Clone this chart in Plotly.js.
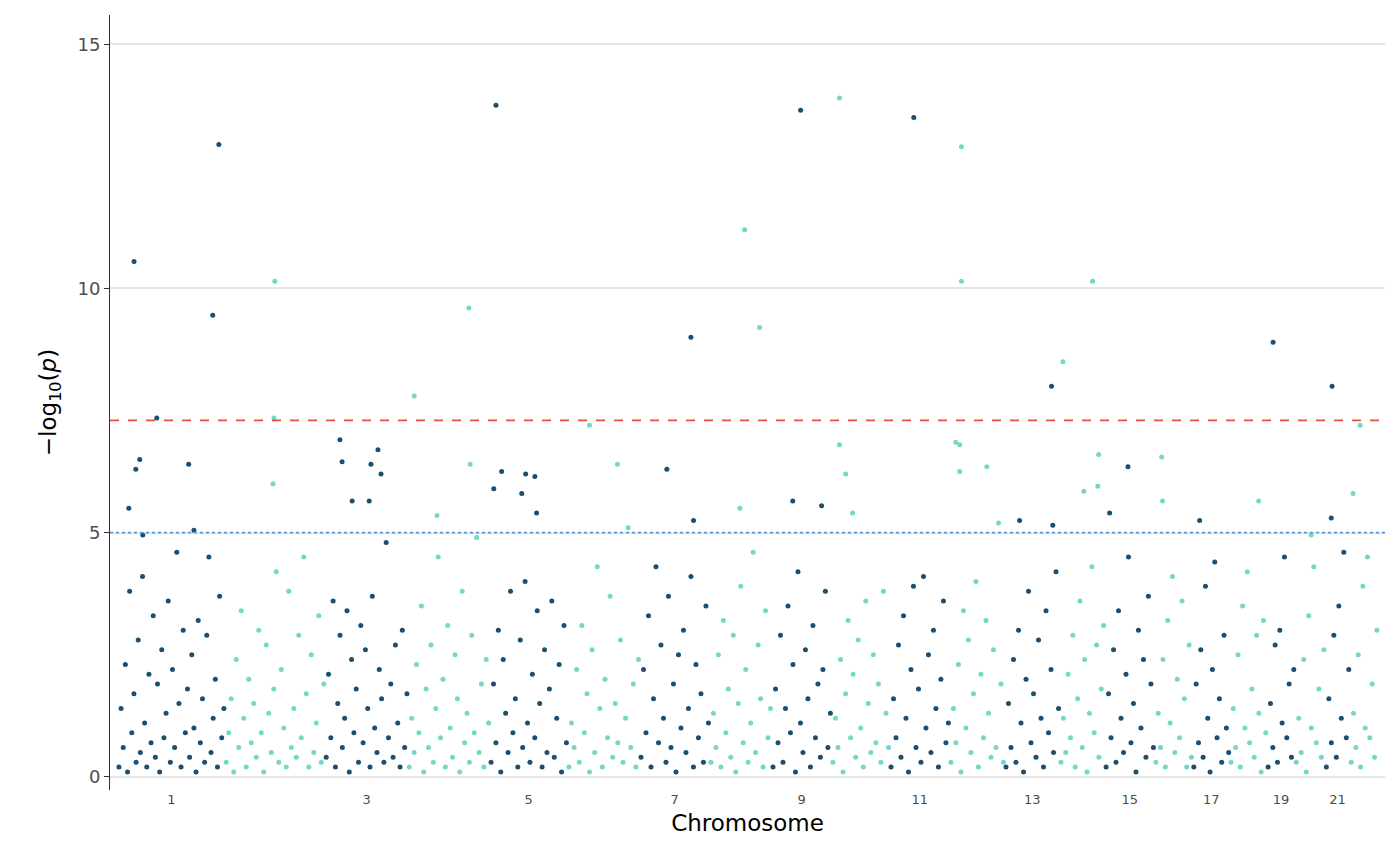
<!DOCTYPE html>
<html>
<head>
<meta charset="utf-8">
<script src="https://cdn.plot.ly/plotly-3.0.1.min.js"></script>
<style>body{margin:0;background:#fff}</style>
</head>
<body>
<div id="gd" style="width:1400px;height:866px"></div>
<script>
// chromosome lengths (Mb)
var chromLengths = [245, 229, 190, 187, 178, 165, 160, 142, 137, 133, 137, 126, 126, 103, 114, 87, 85, 85, 64, 69, 57, 64];
var tickChroms = [1, 3, 5, 7, 9, 11, 13, 15, 17, 19, 21];

// background -log10(p) values per chromosome (spread along each chromosome)
var bulk = [
  [0.2,1.4,0.6,2.3,0.1,3.8,0.9,1.7,0.3,2.8,0.5,4.1,1.1,0.2,2.1,0.7,3.3,0.4,1.9,0.1,2.6,0.8,1.3,3.6,0.3,2.2,0.6,4.6,1.5,0.2,3.0,0.9,1.8,0.4,2.5,1.0,0.1,3.2,0.7,1.6,0.3,2.9,4.5,0.5,1.2,2.0,0.2,3.7,0.8,1.4],
  [0.3,0.9,1.6,0.1,2.4,0.6,3.4,1.2,0.2,2.0,0.7,1.5,0.4,3.0,0.9,0.1,2.7,1.3,0.5,1.8,4.2,0.3,2.2,1.0,0.2,3.8,0.6,1.4,0.4,2.9,0.8,4.5,1.7,0.2,2.5,0.5,1.1,3.3,0.3,1.9],
  [0.4,2.1,0.8,3.6,0.2,1.5,2.9,0.6,1.2,3.4,0.1,2.4,0.9,1.8,0.3,3.1,0.7,2.6,1.4,0.2,3.7,1.0,0.5,2.2,1.6,0.3,4.8,0.8,1.9,0.4,2.7,1.1,0.2,3.0,0.6,1.7],
  [0.2,1.2,0.5,2.3,0.9,3.5,0.1,1.8,0.6,2.7,0.3,1.4,4.5,0.8,2.0,0.2,3.1,1.0,0.4,2.5,1.6,0.1,3.8,0.7,1.3,0.3,2.9,0.9,4.9,0.5,1.9,0.2,2.4,1.1],
  [0.3,1.9,0.7,3.0,0.1,2.4,1.3,0.5,3.8,0.9,1.6,0.2,2.8,0.6,4.0,1.1,0.3,2.1,0.8,3.4,1.5,0.2,2.6,0.5,1.8,3.6,0.4,1.2,2.3,0.1,3.1,0.7],
  [0.2,1.1,0.6,2.2,0.3,3.1,0.9,1.7,0.1,2.6,0.5,4.3,1.4,0.2,2.0,0.8,3.7,0.4,1.5,0.7,2.8,0.3,1.2,5.1,0.6,1.9,0.2,2.4],
  [0.4,2.2,0.9,3.3,0.2,1.6,4.3,0.7,2.7,1.2,0.3,3.7,0.6,1.9,0.1,2.5,1.0,3.0,0.5,1.4,4.1,0.2,2.3,0.8,1.7,0.3,3.5,1.1],
  [0.3,1.3,0.6,2.5,0.2,3.2,0.9,1.8,0.4,2.9,0.1,1.5,3.9,0.7,2.2,0.3,1.1,4.6,0.5,2.7,1.6,0.2,3.4,0.8,1.4],
  [0.2,1.8,0.7,2.9,0.3,1.4,3.5,0.9,2.3,0.1,4.2,1.1,0.5,2.6,1.6,0.2,3.1,0.8,1.9,0.4,2.2,3.8,0.6,1.3],
  [0.3,1.2,0.6,2.4,0.1,1.7,3.2,0.8,2.1,0.4,2.8,1.0,0.2,3.6,1.5,0.5,2.5,0.7,1.9,0.3,3.8,1.3,0.6],
  [0.2,1.6,0.8,2.7,0.4,3.3,1.2,0.1,2.2,3.9,0.6,1.8,0.3,4.1,1.0,2.5,0.5,3.0,1.4,0.2,2.0,3.6,0.7,1.1],
  [0.3,1.4,0.7,2.3,0.1,3.4,1.0,2.8,0.5,1.7,4.0,0.2,2.1,0.8,3.2,1.3,0.4,2.6,0.6,5.2,1.9,0.3],
  [0.2,1.5,0.6,2.4,0.3,3.0,1.1,0.1,2.0,3.8,0.7,1.7,0.4,2.8,1.2,0.2,3.4,0.9,2.2,0.5,4.2,1.4],
  [0.3,1.2,0.5,2.1,0.8,2.9,0.2,1.6,3.6,0.6,2.4,0.1,1.3,4.3,0.9,2.7,0.4,1.8,3.1],
  [0.2,1.7,0.8,2.6,0.3,3.4,1.2,0.5,2.1,4.5,0.7,1.5,0.1,3.0,1.0,2.4,0.4,3.7,1.9,0.6],
  [0.3,1.3,0.6,2.4,0.2,3.2,1.1,4.1,0.5,2.0,0.8,3.6,1.6,0.2,2.7,0.4],
  [0.2,1.9,0.7,2.6,0.4,3.9,1.2,0.1,2.2,4.4,0.8,1.6,0.3,2.9,1.0,0.5],
  [0.3,1.4,0.6,2.5,0.2,3.5,1.0,4.2,0.7,1.8,0.4,2.9,1.3,0.1,3.2,0.9],
  [0.2,1.5,0.6,2.7,0.3,3.0,1.1,4.5,0.8,1.9,0.4,2.2],
  [0.3,1.2,0.5,2.4,0.1,3.3,1.0,4.3,0.7,1.8,0.4,2.6],
  [0.2,1.6,0.7,2.9,0.4,3.5,1.2,4.6,0.8,2.2],
  [0.3,1.3,0.6,2.5,0.2,3.9,1.0,4.5,0.8,1.9,0.4,3.0]
];

// notable hits: chromosome, position (Mb), -log10(p)
var hitChrom = [1,1,1,1,1,1,1,1,1,1, 2,2,2, 3,3,3,3,3,3,3, 4,4,4,4, 5,5,5,5,5,5,5, 6,6, 7,7,7, 8,8,8, 9,9,9, 10,10,10,10, 11, 12,12,12,12,12,12, 13,13,13, 14,14,14,14,14, 15,15, 16,16, 17, 18, 19, 20, 21,21, 22,22];
var hitPos = [37,231,217,89,50,41,162,25,174,57, 114,112,110, 34,39,121,105,128,62,101, 139,14,142,66, 14,27,9,82,103,73,107, 50,114, 117,62,123, 80,114,69, 66,48,114, 18,18,32,48, 55, 27,27,14,23,23,85, 107,34,110, 7,75,89,55,87, 53,11, 16,18, 16, 66, 14, 37, 16,14, 23,7];
var hitVal = [10.55,12.95,9.45,7.35,6.5,6.3,6.4,5.5,5.05,4.95, 10.15,7.35,6.0, 6.9,6.45,6.7,6.4,6.2,5.65,5.65, 9.6,7.8,6.4,5.35, 13.75,6.25,5.9,6.2,6.15,5.8,5.4, 7.2,6.4, 9.0,6.3,5.25, 11.2,9.2,5.5, 13.65,5.65,5.55, 13.9,6.8,6.2,5.4, 13.5, 12.9,10.15,6.85,6.8,6.25,6.35, 8.0,5.25,5.15, 8.5,10.15,6.6,5.85,5.95, 6.35,5.4, 6.55,5.65, 5.25, 5.65, 8.9, 4.95, 8.0,5.3, 7.2,5.8];

var darkCol = '#1b4f72', lightCol = '#76d7c4';
var starts = [], acc = 0;
chromLengths.forEach(function (L) { starts.push(acc); acc += L; });
var total = acc;

var xs = [[], []], ys = [[], []];
bulk.forEach(function (vals, i) {
  var g = i % 2;
  vals.forEach(function (v, j) {
    xs[g].push(starts[i] + (j + 0.5) * chromLengths[i] / vals.length);
    ys[g].push(v);
  });
});
hitChrom.forEach(function (c, k) {
  var g = (c - 1) % 2;
  xs[g].push(starts[c - 1] + hitPos[k]);
  ys[g].push(hitVal[k]);
});

var data = [0, 1].map(function (g) {
  return {
    x: xs[g], y: ys[g], type: 'scatter', mode: 'markers',
    marker: {color: g ? lightCol : darkCol, size: 5},
    hoverinfo: 'skip'
  };
});

var tickVals = tickChroms.map(function (c) { return starts[c - 1] + chromLengths[c - 1] / 2; });

var layout = {
  width: 1400, height: 866,
  margin: {l: 110, r: 15, t: 15, b: 76},
  showlegend: false,
  paper_bgcolor: '#fff', plot_bgcolor: '#fff',
  font: {family: 'DejaVu Sans', color: '#4d4d4d'},
  xaxis: {
    range: [-18, total + 16], tickvals: tickVals, ticktext: tickChroms.map(String),
    showgrid: false, zeroline: false, showline: false, ticks: '',
    tickfont: {size: 13, color: '#4d4d4d'},
    title: {text: 'Chromosome', font: {size: 23, color: '#000'}, standoff: 8}
  },
  yaxis: {
    range: [-0.27, 15.6], tickvals: [0, 5, 10, 15],
    showgrid: true, gridcolor: '#e5e5e5', gridwidth: 1.5, zeroline: false,
    showline: true, linecolor: '#333', linewidth: 1, ticks: 'outside', ticklen: 5, tickcolor: '#333',
    tickfont: {size: 18, color: '#4d4d4d'},
    title: {text: '−log<sub>10</sub>(<i>p</i>)', font: {size: 23, color: '#000'}, standoff: 14}
  },
  shapes: [
    {type: 'line', xref: 'paper', x0: 0, x1: 1, y0: 7.3, y1: 7.3, line: {color: '#e74c3c', width: 1.8, dash: 'dash'}},
    {type: 'line', xref: 'paper', x0: 0, x1: 1, y0: 5, y1: 5, line: {color: '#5d9bd5', width: 1.8, dash: 'dot'}}
  ]
};

Plotly.newPlot('gd', data, layout, {displayModeBar: false});
</script>
</body>
</html>
